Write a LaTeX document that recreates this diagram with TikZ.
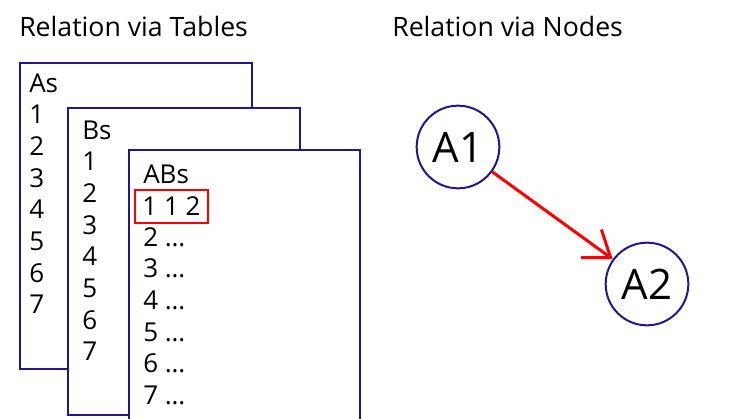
\documentclass[tikz,border=0pt]{standalone}
\usepackage{fontspec}
\setmainfont{Open Sans}
\usetikzlibrary{arrows.meta,positioning}

\definecolor{tableblue}{RGB}{40,20,140}
\definecolor{linkred}{RGB}{255,0,0}

\begin{document}
\begin{tikzpicture}[x=0.75pt,y=-0.75pt,
                    title/.style={anchor=base west,inner sep=0pt,font=\fontsize{20pt}{24pt}\selectfont},
                    tablebox/.style={draw=tableblue,line width=1.5pt,fill=white,anchor=north west,
                                     minimum width=174pt,inner sep=0pt},
                    cell/.style={anchor=base west,inner sep=0pt,font=\fontsize{19.5pt}{23pt}\selectfont},
                    state/.style={circle,draw=tableblue,line width=1.5pt,minimum size=62pt,
                                  inner sep=0pt,font=\fontsize{31.5pt}{36pt}\selectfont}]

  \useasboundingbox (0,0) rectangle (746,418);

  \node[title] (tables) at (19,36.5)  {Relation via Tables};
  \node[title] (nodes)  at (392,36.5) {Relation via Nodes};

  \node[tablebox,minimum height=229.5pt] (As) at (19,62) {};
  \node[cell] (Ashead) at (29,92) {As};
  \foreach \i in {1,...,7}
    \node[cell] (As\i) at (29,{92+31.7*\i}) {\i};

  \node[tablebox,minimum height=230.25pt] (Bs) at (67,107) {};
  \node[cell] (Bshead) at (82,139) {Bs};
  \foreach \i in {1,...,7}
    \node[cell] (Bs\i) at (82,{139+31.7*\i}) {\i};

  \node[tablebox,minimum width=173.25pt,minimum height=210.75pt] (ABs) at (128,149) {};
  \node[cell] (ABshead) at (143,183) {ABs};
  \node[draw=linkred,line width=1.5pt,minimum width=54.75pt,minimum height=24.75pt,inner sep=0pt,
        font=\fontsize{19.5pt}{23pt}\selectfont] (ABs1) at (171.5,206.5) {1 1 2};
  \foreach \i in {2,...,7}
    \node[cell] (ABs\i) at (143,{183+31.6*\i}) {\i\ \dots};

  \node[state] (A1) at (458,147) {A1};
  \node[state] (A2) at (647,284) {A2};

  \draw[linkred,line width=2.25pt,-{Straight Barb[length=18pt,width=26pt]}] (A1) -- (A2);
\end{tikzpicture}
\end{document}
